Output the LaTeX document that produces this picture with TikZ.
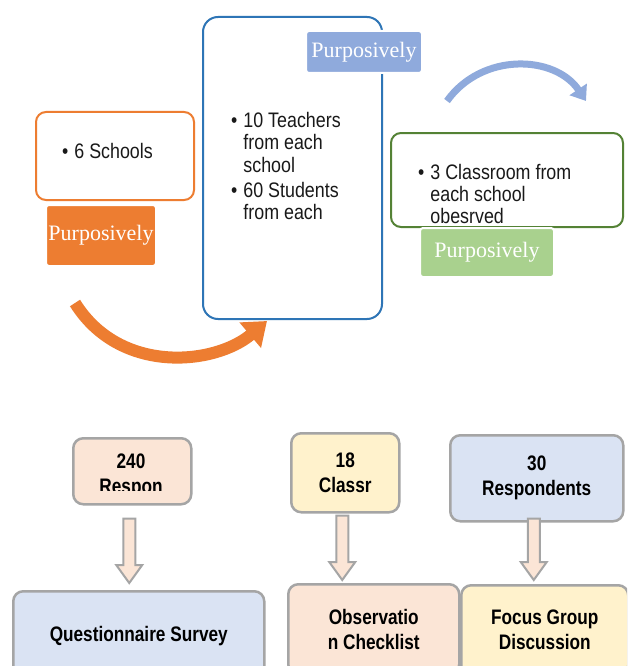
\documentclass[tikz,border=0pt]{standalone}
\usepackage{fontspec}
\setmainfont{Liberation Sans}
\newfontfamily\narrowsans[FakeStretch=0.85]{Liberation Sans}
\newfontfamily\narrowbold[FakeStretch=0.82]{Liberation Sans}
\newfontfamily\purpfont{Liberation Serif}
\usetikzlibrary{calc,arrows.meta}

\definecolor{sorange}{HTML}{ED7D31}
\definecolor{sblue}{HTML}{2E75B6}
\definecolor{pblue}{HTML}{8FAADC}
\definecolor{sgreen}{HTML}{548235}
\definecolor{pgreen}{HTML}{A9D18E}
\definecolor{peach}{HTML}{FBE5D6}
\definecolor{cream}{HTML}{FFF2CC}
\definecolor{lblue}{HTML}{DAE3F3}
\definecolor{edgegray}{HTML}{A5A5A5}

\tikzset{
  stagebox/.style={draw, line width=2pt, rounded corners=10pt, fill=white, anchor=north west, inner sep=0pt},
  purpbox/.style={draw=white, line width=2pt, rounded corners=3pt, anchor=north west, inner sep=0pt,
    text=white, font=\purpfont\fontsize{22}{24}\selectfont},
  listtext/.style={anchor=base west, inner sep=0pt, text=black!90, font=\narrowsans\fontsize{21}{22}\selectfont},
  toolbox/.style={draw=edgegray, line width=2.5pt, rounded corners=10pt, anchor=north west, inner sep=0pt,
    align=center, font=\narrowbold\bfseries\fontsize{21}{25}\selectfont},
  fatarrow/.style={draw=edgegray, line width=2pt, fill=peach, line join=miter}
}

% block arrow: from, to, gap below "from", gap above "to"
\newcommand\fatarrow[4]{%
  \path (#1.south) ++(-3,#3) coordinate (fa-top);
  \path (#1.south |- #2.north) ++(-3,-#4) coordinate (fa-tip);
  \draw[fatarrow] ($(fa-top)+(-6,0)$) -- ($(fa-tip)+(-6,-18)$) -- ($(fa-tip)+(-13,-18)$) -- (fa-tip)
    -- ($(fa-tip)+(13,-18)$) -- ($(fa-tip)+(6,-18)$) -- ($(fa-top)+(6,0)$) -- cycle;}

\newcommand\bitem{\textbullet}

\begin{document}
\begin{tikzpicture}[x=1pt,y=-1pt]
  \clip (0,0) rectangle (627,666);
  \fill[white] (0,0) rectangle (627,666);

  % sampling stages
  \node[stagebox, draw=sorange, minimum width=158pt, minimum height=88pt] (schools) at (35,111) {};
  \node[stagebox, draw=sblue, rounded corners=15pt, minimum width=179pt, minimum height=302pt] (people) at (202,16) {};
  \node[stagebox, draw=sgreen, minimum width=232pt, minimum height=94pt] (rooms) at (390,132) {};

  \node[purpbox, fill=sorange, minimum width=110pt, minimum height=61pt] (purp1) at (45,204) {Purposively};
  \node[purpbox, fill=pblue, minimum width=116pt, minimum height=42pt] (purp2) at (305,30) {Purposively};
  \node[purpbox, fill=pgreen, minimum width=134pt, minimum height=49pt] (purp3) at (419,227) {Purposively};

  \node[listtext] (schools-txt) at (62,158) {\begin{tabular}[t]{@{}l@{\hspace{6pt}}l@{}}\bitem & 6 Schools\end{tabular}};
  \node[listtext] (people-txt) at (231,128) {\begin{tabular}[t]{@{}l@{\hspace{6pt}}l@{}}
    \bitem & 10 Teachers\\ & from each\\ & school\\[4pt]
    \bitem & 60 Students\\ & from each\end{tabular}};
  \node[listtext] (rooms-txt) at (418,179) {\begin{tabular}[t]{@{}l@{\hspace{6pt}}l@{}}
    \bitem & 3 Classroom from\\ & each school\\ & obesrved\end{tabular}};

  \coordinate (oarc-start) at (75,303);
  \coordinate (oarc-end) at (267,321);
  \draw[line width=12pt, sorange, -{Triangle[length=22pt,width=32pt]}]
    (oarc-start) .. controls (120,375) and (215,365) .. (oarc-end);
  \coordinate (barc-start) at (447,101);
  \coordinate (barc-end) at (586,101);
  \draw[line width=7pt, pblue, -{Triangle[length=14pt,width=20pt]}]
    (barc-start) .. controls (482,52) and (555,55) .. (barc-end);

  % instruments
  \node[toolbox, fill=peach, minimum width=118pt, minimum height=66pt] (resp240) at (72,437) {};
  \begin{scope}
    \clip (72,437) rectangle (190,490);
    \node[toolbox, draw=none, fill=none, anchor=center] (resp240-txt) at (131,476) {240\\Respon};
  \end{scope}
  \node[toolbox, fill=cream, minimum width=108pt, minimum height=79pt] (class18) at (290,432) {18\\Classr};
  \node[toolbox, fill=lblue, minimum width=173pt, minimum height=86pt] (resp30) at (449,434) {30\\Respondents};

  \node[toolbox, fill=lblue, minimum width=251pt, minimum height=90pt] (survey) at (12,590) {Questionnaire Survey};
  \node[toolbox, fill=peach, minimum width=171pt, minimum height=90pt] (checklist) at (287,583) {Observatio\\n Checklist};
  \node[toolbox, fill=cream, minimum width=167pt, minimum height=90pt] (focus) at (460,584) {Focus Group\\Discussion};

  \fatarrow{resp240}{survey}{13}{7}
  \fatarrow{class18}{checklist}{2}{3}
  \fatarrow{resp30}{focus}{-4}{4}
\end{tikzpicture}
\end{document}
